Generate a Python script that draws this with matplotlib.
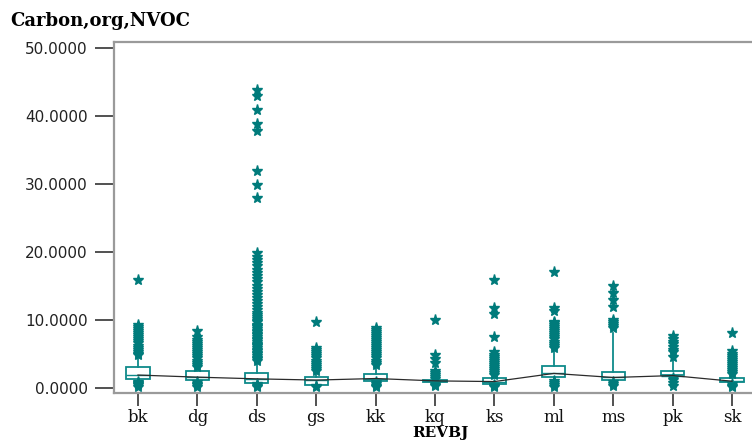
import matplotlib
matplotlib.use("Agg")
import matplotlib.pyplot as plt

# --------------------------------------------------
# Data: NVOC by REVBJ group
# --------------------------------------------------

groups = ["bk", "dg", "ds", "gs", "kk", "kq", "ks", "ml", "ms", "pk", "sk"]

q1 = [1.30, 1.15, 0.70, 0.45, 1.00, 0.80, 0.55, 1.55, 1.15, 1.80, 0.80]
median = [1.86, 1.55, 1.30, 1.12, 1.35, 1.00, 0.90, 2.10, 1.50, 1.78, 0.95]
q3 = [3.05, 2.40, 2.15, 1.50, 2.00, 1.10, 1.45, 3.20, 2.25, 2.50, 1.40]
whisker_lo = [1.00, 1.00, 0.60, 0.40, 0.90, 0.75, 0.50, 1.40, 1.00, 1.60, 0.75]
whisker_hi = [4.45, 3.00, 3.95, 2.30, 3.20, 1.20, 1.80, 5.80, 8.10, 4.20, 1.80]

outliers = {
    "bk": [0.15, 0.35, 0.55, 0.75, 0.9, 4.8, 5.0, 5.3, 5.6, 5.9, 6.1, 6.6, 6.9,
           7.2, 7.5, 7.8, 8.1, 8.4, 8.7, 9.0, 9.3, 15.9],
    "dg": [0.1, 0.35, 0.6, 0.85, 3.1, 3.4, 3.7, 4.0, 4.3, 4.6, 4.9, 5.2, 5.5,
           5.8, 6.1, 6.4, 6.7, 7.0, 7.5, 8.4],
    "ds": [0.1, 0.3, 0.5, 4.0, 4.2, 4.4, 4.7, 4.9, 5.1, 5.4, 5.6, 5.8, 6.1,
           6.3, 6.5, 6.8, 7.0, 7.2, 7.5, 7.7, 7.9, 8.2, 8.4, 8.6, 8.9, 9.1,
           9.3, 9.6, 9.8, 10.1, 10.4, 10.7, 11.0, 11.4, 11.9, 12.3, 12.7,
           13.2, 13.6, 14.1, 14.6, 15.0, 15.5, 16.0, 16.4, 16.9, 17.4, 17.9,
           18.3, 18.8, 19.3, 19.8, 27.9, 29.9, 31.9, 37.8, 38.9, 40.9, 42.9,
           43.9],
    "gs": [0.05, 0.2, 2.5, 2.8, 3.1, 3.4, 3.7, 4.0, 4.3, 4.6, 4.9, 5.2, 5.5,
           5.9, 9.7],
    "kk": [0.05, 0.3, 0.55, 0.8, 3.4, 3.7, 4.0, 4.3, 4.6, 4.9, 5.2, 5.5, 5.8,
           6.1, 6.4, 6.7, 7.0, 7.3, 7.6, 7.9, 8.2, 8.5, 8.8],
    "kq": [0.2, 0.45, 0.7, 1.35, 1.6, 1.9, 2.2, 2.5, 3.6, 4.2, 4.8, 9.97],
    "ks": [0.05, 0.25, 0.45, 1.8, 2.1, 2.4, 2.7, 3.0, 3.3, 3.6, 3.9, 4.2,
           4.5, 4.8, 5.2, 7.4, 10.9, 11.7, 15.9],
    "ml": [0.1, 0.4, 0.7, 1.0, 5.9, 6.2, 6.5, 6.8, 7.1, 7.4, 7.7, 8.0, 8.3,
           8.6, 8.9, 9.2, 9.5, 9.7, 11.3, 11.8, 17.0],
    "ms": [0.2, 0.5, 0.8, 8.75, 9.1, 9.4, 9.7, 10.0, 11.9, 12.9, 13.9, 14.96],
    "pk": [0.3, 0.7, 1.1, 1.4, 4.5, 5.2, 5.6, 6.0, 6.4, 6.8, 7.2, 7.6],
    "sk": [0.05, 0.3, 0.55, 2.0, 2.3, 2.6, 2.9, 3.2, 3.5, 3.8, 4.1, 4.4,
           4.7, 5.0, 5.4, 8.1],
}

y_ticks = [0, 10, 20, 30, 40, 50]

# --------------------------------------------------
# Figure
# --------------------------------------------------

teal = "#0e8a8a"
star = "#007b7b"
spine_grey = "#9a9a9a"

fig = plt.figure(figsize=(7.52, 4.41), dpi=100)
ax = fig.add_axes([114 / 752, 1 - 392.7 / 441, 642 / 752, 350.4 / 441])

stats = []
for i, g in enumerate(groups):
    stats.append({
        "label": g,
        "q1": q1[i],
        "med": median[i],
        "q3": q3[i],
        "whislo": whisker_lo[i],
        "whishi": whisker_hi[i],
        "fliers": outliers[g],
    })

ax.bxp(
    stats,
    positions=range(len(groups)),
    widths=0.39,
    showcaps=False,
    patch_artist=True,
    boxprops=dict(facecolor="white", edgecolor=teal, linewidth=1.3),
    whiskerprops=dict(color=teal, linewidth=1.3),
    medianprops=dict(color=teal, linewidth=1.0),
    flierprops=dict(marker="*", markersize=8, markerfacecolor=star,
                    markeredgecolor=star, linestyle="none"),
)

# median profile across groups
ax.plot(range(len(groups)), median, color="#2b2b2b", linewidth=0.9, zorder=4)

ax.set_xlim(-0.403, 10.403)
ax.set_ylim(-0.74, 50.87)
ax.set_yticks(y_ticks)
ax.set_yticklabels([f"{v:.4f}" for v in y_ticks])
ax.set_xticks(range(len(groups)))
ax.set_xticklabels(groups)

for name in ["left", "top", "bottom"]:
    ax.spines[name].set_color(spine_grey)
    ax.spines[name].set_linewidth(1.6)
ax.spines["right"].set_visible(False)

ax.tick_params(axis="y", direction="out", length=14, width=1.2,
               color="#333333", pad=5, labelsize=11,
               labelcolor="#222222")
ax.tick_params(axis="x", direction="out", length=9, width=1.2,
               color="#333333", pad=3, labelsize=12,
               labelcolor="#111111")
for lab in ax.get_xticklabels():
    lab.set_family("DejaVu Serif")

fig.text(10 / 752, 1 - 21 / 441, "Carbon,org,NVOC", family="DejaVu Serif",
         fontweight="bold", fontsize=13, va="center", ha="left")
fig.text(440 / 752, 1 - 433.5 / 441, "REVBJ", family="DejaVu Serif",
         fontweight="bold", fontsize=11, va="center", ha="center")

fig.savefig("out.png", dpi=100)
plt.close(fig)
print("Figure Saved.")
